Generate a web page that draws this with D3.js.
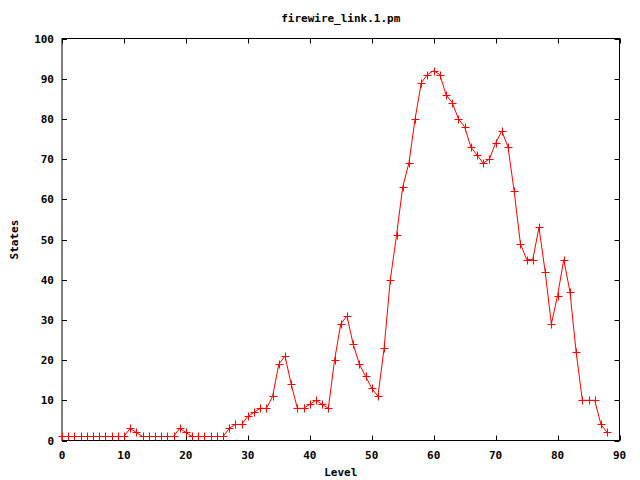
<!DOCTYPE html>
<html>
<head>
<meta charset="utf-8">
<script src="https://cdn.jsdelivr.net/npm/d3@7"></script>
<style>
  html, body { margin: 0; padding: 0; background: #fff; }
  svg text { font-family: "DejaVu Sans Mono", "Liberation Mono", monospace; font-weight: bold; font-size: 11px; fill: #000; }
</style>
</head>
<body>
<svg id="chart" width="640" height="480"></svg>
<script>
const title = "firewire_link.1.pm";
const xLabel = "Level";
const yLabel = "States";
const levels = [0,1,2,3,4,5,6,7,8,9,10,11,12,13,14,15,16,17,18,19,20,21,22,23,24,25,26,27,28,29,30,31,32,33,34,35,36,37,38,39,40,41,42,43,44,45,46,47,48,49,50,51,52,53,54,55,56,57,58,59,60,61,62,63,64,65,66,67,68,69,70,71,72,73,74,75,76,77,78,79,80,81,82,83,84,85,86,87,88];
const states = [1,1,1,1,1,1,1,1,1,1,1,3,2,1,1,1,1,1,1,3,2,1,1,1,1,1,1,3,4,4,6,7,8,8,11,19,21,14,8,8,9,10,9,8,20,29,31,24,19,16,13,11,23,40,51,63,69,80,89,91,92,91,86,84,80,78,73,71,69,70,74,77,73,62,49,45,45,53,42,29,36,45,37,22,10,10,10,4,2];
const xTicks = [0,10,20,30,40,50,60,70,80,90];
const yTicks = [0,10,20,30,40,50,60,70,80,90,100];

const svg = d3.select("#chart");
const L = 62, R = 619.5, T = 38.5, B = 440.5;
const x = d3.scaleLinear().domain([0, 90]).range([L, R]);
const y = d3.scaleLinear().domain([0, 100]).range([B, T]);
const tk = 5;

// ticks (mirrored, inward)
const g = svg.append("g").attr("stroke", "#000").attr("stroke-width", 1);
xTicks.forEach(v => {
  const px = Math.round(x(v)) + 0.5;
  g.append("line").attr("x1", px).attr("x2", px).attr("y1", B).attr("y2", B - tk);
  g.append("line").attr("x1", px).attr("x2", px).attr("y1", T).attr("y2", T + tk);
});
yTicks.forEach(v => {
  const py = Math.round(y(v)) + 0.5;
  g.append("line").attr("x1", L).attr("x2", L + tk).attr("y1", py).attr("y2", py);
  g.append("line").attr("x1", R).attr("x2", R - tk).attr("y1", py).attr("y2", py);
});
svg.append("rect").attr("x", L).attr("y", T).attr("width", R - L).attr("height", B - T)
  .attr("fill", "none").attr("stroke", "#000").attr("stroke-width", 1);

// tick labels
svg.append("g").selectAll("text").data(xTicks).join("text")
  .attr("x", d => x(d)).attr("y", B + 18).attr("text-anchor", "middle").text(d => d);
svg.append("g").selectAll("text").data(yTicks).join("text")
  .attr("x", L - 8).attr("y", d => y(d) + 4).attr("text-anchor", "end").text(d => d);

// titles
svg.append("text").attr("x", (L + R) / 2).attr("y", 22).attr("text-anchor", "middle").text(title);
svg.append("text").attr("x", (L + R) / 2).attr("y", 476).attr("text-anchor", "middle").text(xLabel);
svg.append("text").attr("transform", "translate(18," + ((T + B) / 2) + ") rotate(-90)")
  .attr("text-anchor", "middle").text(yLabel);

// line
const data = levels.map((l, i) => ({ l, s: states[i] }));
svg.append("path").datum(data)
  .attr("fill", "none").attr("stroke", "#ff0000").attr("stroke-width", 1)
  .attr("d", d3.line().x(d => x(d.l)).y(d => y(d.s)));

// + markers
const m = 4;
svg.append("g").attr("stroke", "#ff0000").attr("stroke-width", 1)
  .selectAll("path").data(data).join("path")
  .attr("d", d => {
    const px = Math.round(x(d.l)) + 0.5, py = Math.round(y(d.s)) + 0.5;
    return `M${px - m},${py}H${px + m}M${px},${py - m}V${py + m}`;
  });
</script>
</body>
</html>
